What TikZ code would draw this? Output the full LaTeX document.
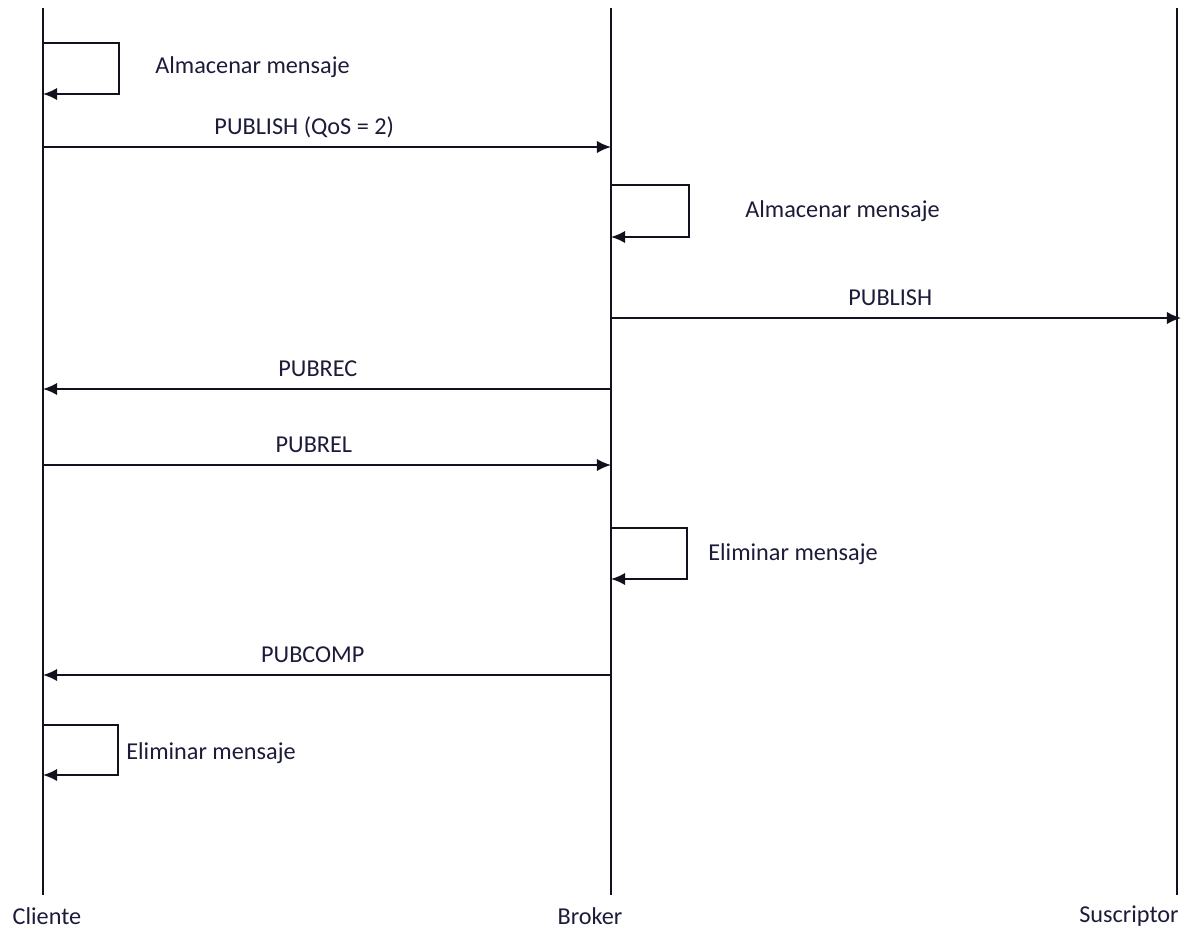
\documentclass[tikz,border=0pt]{standalone}
\usepackage{fontspec}
\setmainfont{Carlito}
\usepackage{tikz}
\usetikzlibrary{arrows.meta, positioning}
\definecolor{ink}{RGB}{28,28,58}
\definecolor{wire}{RGB}{18,18,30}

\begin{document}
\begin{tikzpicture}[
    x=0.02cm, y=-0.02cm,
    life/.style={wire, line width=1pt},
    msg/.style={wire, line width=1pt, -{Latex[length=8pt, width=7pt]}},
    lbl/.style={text=ink, font=\fontsize{13.8}{16}\selectfont, inner sep=0pt},
    msglbl/.style={lbl, anchor=base, yshift=7pt}
]
\useasboundingbox (0,0) rectangle (1181,941);

% lineas de vida
\coordinate (cli top) at (43,8);
\coordinate (cli bot) at (43,895);
\coordinate (bro top) at (611,8);
\coordinate (bro bot) at (611,895);
\coordinate (sus top) at (1177,8);
\coordinate (sus bot) at (1177,895);
\draw[life] (cli top) -- (cli bot);
\draw[life] (bro top) -- (bro bot);
\draw[life] (sus top) -- (sus bot);

\node[lbl] (cliente) at (47,916) {Cliente};
\node[lbl] (broker) at (590,916) {Broker};
\node[lbl] (suscriptor) at (1129,916) {Suscriptor};

% puntos de los mensajes
\coordinate (c1) at (43,43);   \coordinate (c2) at (43,94);
\coordinate (c3) at (43,147);  \coordinate (b3) at (611,147);
\coordinate (b4) at (611,185); \coordinate (b5) at (611,237);
\coordinate (b6) at (611,318); \coordinate (s6) at (1181,318);
\coordinate (b7) at (611,389); \coordinate (c7) at (43,389);
\coordinate (c8) at (43,465);  \coordinate (b8) at (611,465);
\coordinate (b9) at (611,528); \coordinate (b10) at (611,579);
\coordinate (b11) at (611,675); \coordinate (c11) at (43,675);
\coordinate (c12) at (43,725); \coordinate (c13) at (43,775);

% mensajes
\draw[msg] (c1) -- ++(76,0) |- (c2);
\node[lbl, anchor=west] (alm1) at (155,67) {Almacenar mensaje};
\draw[msg] (c3) -- node[msglbl, pos=0.46] {PUBLISH (QoS = 2)} (b3);
\draw[msg] (b4) -- ++(78,0) |- (b5);
\node[lbl, anchor=west] (alm2) at (745,211) {Almacenar mensaje};
\draw[msg] (b6) -- node[msglbl, pos=0.49] {PUBLISH} (s6);
\draw[msg] (b7) -- node[msglbl, pos=0.516] {PUBREC} (c7);
\draw[msg] (c8) -- node[msglbl, pos=0.477] {PUBREL} (b8);
\draw[msg] (b9) -- ++(76,0) |- (b10);
\node[lbl, anchor=west] (eli1) at (708,554) {Eliminar mensaje};
\draw[msg] (b11) -- node[msglbl, pos=0.525] {PUBCOMP} (c11);
\draw[msg] (c12) -- ++(75,0) |- (c13);
\node[lbl, anchor=west] (eli2) at (126,753) {Eliminar mensaje};

\end{tikzpicture}
\end{document}
